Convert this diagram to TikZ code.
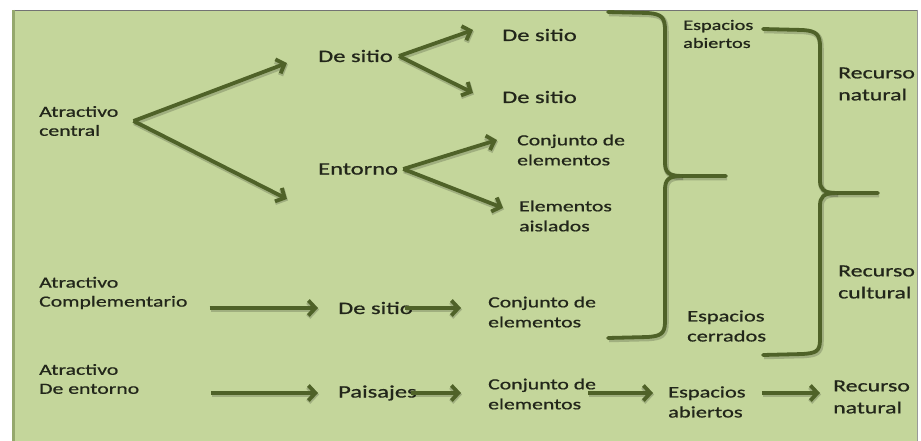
\documentclass[tikz,border=0pt]{standalone}
\usepackage{fontspec}
\setmainfont{Carlito}[FakeStretch=1.4,FakeBold=0.8]
\usetikzlibrary{arrows.meta}

\definecolor{fondo}{HTML}{C4D69B}
\definecolor{oliva}{HTML}{4F6228}
\definecolor{texto}{HTML}{22261A}

\begin{document}
\begin{tikzpicture}
  [x=1pt,y=-1pt,
    every node/.style={anchor=west,align=left,inner sep=0pt,text=texto},
    izq/.style={font=\fontsize{15.5}{19}\selectfont},
    medio/.style={font=\fontsize{17.5}{21}\selectfont},
    conj/.style={font=\fontsize{15.5}{20}\selectfont},
    esp/.style={font=\fontsize{16}{20}\selectfont},
    recu/.style={font=\fontsize{17}{22}\selectfont},
    sombra/.style={preaction={draw=black,opacity=.18,line width=5.5pt,
        transform canvas={shift={(1pt,-1.5pt)}}}},
    flecha/.style={draw=oliva,line width=3.8pt,sombra,
      -{Straight Barb[length=7pt,width=15pt]}},
    llave/.style={draw=oliva,line width=3.8pt,sombra,line cap=round},
]
  \useasboundingbox (0,0) rectangle (921,441);
  % fondo
  \fill[fondo] (12,10) rectangle (917,441);
  \draw[black!55,line width=1pt] (12,10.5) -- (917,10.5);
  \draw[black!40,line width=.8pt] (917,10) -- (917,441);
  \draw[fondo!60!oliva,line width=3pt] (13.5,10) -- (13.5,441);

  % atractivo central
  \node[izq] (ac) at (39,121) {Atractivo\\central};
  \node[medio] (ds1) at (318,56) {De sitio};
  \node[medio] (en) at (318,169) {Entorno};
  \node[medio] (ds2) at (502,35) {De sitio};
  \node[medio] (ds3) at (502,97) {De sitio};
  \node[conj] (ce1) at (517,150) {Conjunto de\\elementos};
  \node[conj] (ea) at (519,216) {Elementos\\aislados};

  \coordinate (acp) at ([xshift=15pt]ac.east);
  \coordinate (dsp) at ([xshift=6pt]ds1.east);
  \coordinate (enp) at ([xshift=5pt]en.east);
  \draw[flecha] (acp) -- ([xshift=-31pt,yshift=-7pt]ds1.west);
  \draw[flecha] (acp) -- ([xshift=-31pt,yshift=-30pt]en.west);
  \draw[flecha] (dsp) -- ([xshift=-29pt,yshift=5pt]ds2.west);
  \draw[flecha] (dsp) -- ([xshift=-29pt,yshift=4pt]ds3.west);
  \draw[flecha] (enp) -- ([xshift=-20pt,yshift=10pt]ce1.west);
  \draw[flecha] (enp) -- ([xshift=-16pt,yshift=8pt]ea.west);

  % llaves
  \draw[llave] (608,12) -- (648,13) .. controls (662,14) and (665,18) .. (665,30)
    -- (665,162) .. controls (665,172) and (668,176) .. (682,176) -- (726,176);
  \draw[llave] (682,176) .. controls (668,176) and (665,180) .. (665,190)
    -- (665,322) .. controls (665,334) and (660,336) .. (648,337) -- (608,338);
  \draw[llave] (763,29) -- (803,30) .. controls (817,31) and (820,35) .. (820,47)
    -- (820,180) .. controls (820,189) and (823,193) .. (837,193) -- (878,193);
  \draw[llave] (837,193) .. controls (823,193) and (820,197) .. (820,206)
    -- (820,340) .. controls (820,352) and (815,353) .. (803,354) -- (763,355);

  \node[font=\fontsize{14.5}{18}\selectfont] (eab1) at (683,34) {Espacios\\abiertos};
  \node[recu] (rn1) at (838,84) {Recurso\\natural};
  \node[recu] (rc) at (838,282) {Recurso\\cultural};
  \node[esp] (ecr) at (687,326) {Espacios\\cerrados};

  % atractivo complementario
  \node[izq] (acm) at (39,293) {Atractivo\\Complementario};
  \node[medio] (ds4) at (338,308) {De sitio};
  \node[conj] (ce2) at (488,312) {Conjunto de\\elementos};
  \draw[flecha] ([xshift=22pt]acm.east |- ds4.west) -- ([xshift=-20pt]ds4.west);
  \draw[flecha] ([xshift=-8pt]ds4.east) -- ([xshift=-27pt]ce2.west |- ds4.east);

  % atractivo de entorno
  \node[izq] (ade) at (39,379) {Atractivo\\De entorno};
  \node[medio] (pa) at (338,393) {Paisajes};
  \node[conj] (ce3) at (488,394) {Conjunto de\\elementos};
  \node[esp] (eab2) at (668,402) {Espacios\\abiertos};
  \node[recu] (rn2) at (833,397) {Recurso\\natural};
  \draw[flecha] ([xshift=72pt]ade.east |- pa.west) -- ([xshift=-20pt]pa.west);
  \draw[flecha] ([xshift=-6pt]pa.east) -- ([xshift=-27pt]ce3.west |- pa.east);
  \draw[flecha] ([xshift=-8pt]ce3.east |- pa.east) -- ([xshift=-15pt]eab2.west |- pa.east);
  \draw[flecha] ([xshift=16pt]eab2.east |- pa.east) -- ([xshift=-13pt]rn2.west |- pa.east);
\end{tikzpicture}
\end{document}
